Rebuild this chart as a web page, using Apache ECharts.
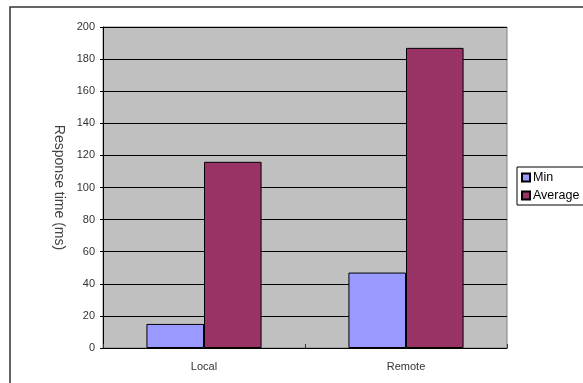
<!DOCTYPE html>
<html>
<head>
<meta charset="utf-8">
<script src="https://cdn.jsdelivr.net/npm/echarts@6/dist/echarts.min.js"></script>
<style>
  html, body { margin: 0; padding: 0; background: #fff; }
  #chart { width: 583px; height: 383px; }
</style>
</head>
<body>
<div id="chart"></div>
<script>
// data
const categories = ['Local', 'Remote']
const minValues = [15, 47]
const avgValues = [116, 187]
const seriesNames = ['Min', 'Average']

const chart = echarts.init(document.getElementById('chart'))
const font = '"Liberation Sans", Arial, sans-serif'

chart.setOption({
  animation: false,
  textStyle: { fontFamily: font },
  graphic: [
    {
      // outer chart frame (runs off the right and bottom edges)
      type: 'rect',
      z: 0,
      shape: { x: 10, y: 7, width: 700, height: 500 },
      style: { fill: 'none', stroke: '#333', lineWidth: 1.5 }
    }
  ],
  legend: {
    orient: 'vertical',
    left: 517,
    top: 167,
    data: seriesNames,
    icon: 'rect',
    itemWidth: 8,
    itemHeight: 8,
    itemGap: 5,
    padding: [4, 40, 3, 4],
    borderColor: '#000',
    borderWidth: 1,
    textStyle: { fontSize: 12.5, color: '#000', fontFamily: font, padding: [0, 0, 0, -2] }
  },
  grid: {
    left: 103,
    right: 76,
    top: 27,
    bottom: 35,
    show: true,
    backgroundColor: '#c0c0c0',
    borderColor: '#808080',
    borderWidth: 1
  },
  xAxis: {
    type: 'category',
    data: categories,
    axisLine: { lineStyle: { color: '#000', width: 1 } },
    axisTick: { show: true, inside: true, length: 4, lineStyle: { color: '#333' } },
    axisLabel: { fontSize: 11, color: '#333', margin: 13 }
  },
  yAxis: {
    type: 'value',
    min: 0,
    max: 200,
    interval: 20,
    name: 'Response time (ms)',
    nameLocation: 'middle',
    nameRotate: -90,
    nameGap: 31,
    nameTextStyle: { fontSize: 14, color: '#444' },
    axisLine: { show: true, lineStyle: { color: '#000', width: 1 } },
    axisTick: { show: true, length: 3, lineStyle: { color: '#000' } },
    axisLabel: { fontSize: 11, color: '#333', margin: 8 },
    splitLine: { lineStyle: { color: '#000', width: 1 } }
  },
  series: [
    {
      name: 'Min',
      type: 'bar',
      data: minValues,
      barGap: '0%',
      barCategoryGap: '43%',
      itemStyle: { color: '#9999ff', borderColor: '#000', borderWidth: 1 }
    },
    {
      name: 'Average',
      type: 'bar',
      data: avgValues,
      barGap: '0%',
      barCategoryGap: '43%',
      itemStyle: { color: '#993366', borderColor: '#000', borderWidth: 1 }
    }
  ]
})
</script>
</body>
</html>
